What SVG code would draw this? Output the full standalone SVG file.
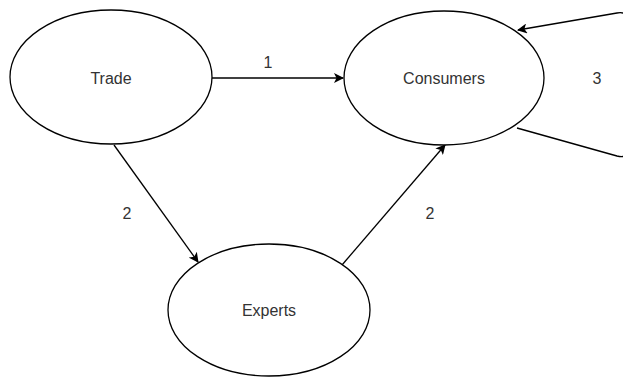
<svg xmlns="http://www.w3.org/2000/svg" width="623" height="378" viewBox="0 0 623 378">
<style>
.n{fill:#fff;stroke:#000;stroke-width:1.3}
.t{font-family:"Liberation Sans",Arial,sans-serif;font-size:16px;fill:#333;text-anchor:middle;dominant-baseline:central}
.e{fill:none;stroke:#000;stroke-width:1.3}
</style>
<defs>
<marker id="a" viewBox="0 0 10 10" refX="9" refY="5" markerWidth="10" markerHeight="10" markerUnits="userSpaceOnUse" orient="auto">
<path d="M0,0 L10,5 L0,10 L2.5,5 Z" fill="#000"/>
</marker>
</defs>
<g id="edges">
<path class="e" d="M212,78 L343,78" marker-end="url(#a)"/>
<path class="e" d="M114,145 L198,262" marker-end="url(#a)"/>
<path class="e" d="M342,265 L445,145" marker-end="url(#a)"/>
<path class="e" d="M517,128 L617,156 Q629,159 629,147 L629,23 Q629,11 617,13 L518,30" marker-end="url(#a)"/>
<text class="t" x="268" y="62">1</text>
<text class="t" x="127" y="213">2</text>
<text class="t" x="430" y="213">2</text>
<text class="t" x="597" y="78">3</text>
</g>
<g id="trade"><ellipse class="n" cx="111" cy="77" rx="101" ry="67"/><text class="t" x="111" y="78">Trade</text></g>
<g id="consumers"><ellipse class="n" cx="444" cy="78" rx="100" ry="67"/><text class="t" x="444" y="78">Consumers</text></g>
<g id="experts"><ellipse class="n" cx="269" cy="310" rx="101" ry="66"/><text class="t" x="269" y="310">Experts</text></g>
</svg>
